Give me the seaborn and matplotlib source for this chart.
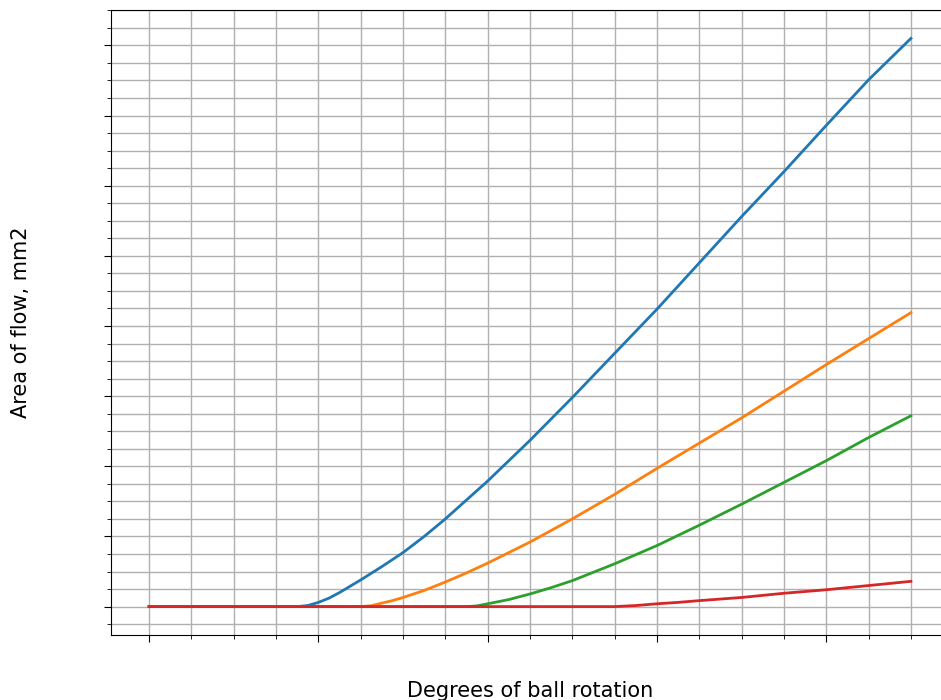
import matplotlib
matplotlib.use("Agg")
import matplotlib.pyplot as plt
from matplotlib.ticker import MultipleLocator, AutoMinorLocator
import pandas as pd
import seaborn as sns

# Flow area (mm2) against ball rotation (degrees) for four valve sizes
deg_a = [0, 5, 10, 15, 17.5, 18.75, 20, 21.25, 22.5, 23.75, 25, 27.5, 30, 32.5, 35, 40, 45, 50,
         55, 60, 65, 70, 75, 80, 85, 90]
area_a = [0, 0, 0, 0, 0, 1.5, 6, 12, 20, 29, 38, 57, 77, 100, 125, 179, 237, 298,
          361, 424, 490, 556, 620, 686, 751, 810]

deg_b = [0, 5, 10, 15, 20, 25, 26.25, 27.5, 28.75, 30, 32.5, 35, 37.5, 40, 45, 50, 55,
         60, 65, 70, 75, 80, 85, 90]
area_b = [0, 0, 0, 0, 0, 0, 1.2, 5, 8.5, 13, 23, 35, 48, 62, 92, 125, 160,
          197, 233, 269, 307, 345, 382, 419]

deg_c = [0, 5, 10, 15, 20, 25, 30, 35, 37.5, 38.75, 40, 42.5, 45, 47.5, 50, 55, 60,
         65, 70, 75, 80, 85, 90]
area_c = [0, 0, 0, 0, 0, 0, 0, 0, 0, 1, 4, 10, 18, 27, 37, 61, 87,
          116, 146, 177, 208, 241, 272]

deg_d = [0, 5, 10, 15, 20, 25, 30, 35, 40, 45, 50, 55, 57.5, 60, 62.5, 65, 70, 75, 80, 85, 90]
area_d = [0, 0, 0, 0, 0, 0, 0, 0, 0, 0, 0, 0, 1.5, 4, 6, 8.5, 13, 19, 24, 30, 36]

series_names = ["A", "B", "C", "D"]
frames = []
for name, d, a in zip(series_names, [deg_a, deg_b, deg_c, deg_d], [area_a, area_b, area_c, area_d]):
    frames.append(pd.DataFrame({"deg": d, "area": a, "valve": name}))
df = pd.concat(frames, ignore_index=True)

fig = plt.figure(figsize=(9.41, 7.0), dpi=100)
ax = fig.add_axes([111 / 941, 65 / 700, 838 / 941, 625 / 700])

sns.lineplot(data=df, x="deg", y="area", hue="valve",
             palette=["#1f77b4", "#ff7f0e", "#2ca02c", "#d62728"],
             linewidth=2, legend=False, ax=ax, zorder=3)

ax.xaxis.set_major_locator(MultipleLocator(20))
ax.xaxis.set_minor_locator(MultipleLocator(5))
ax.yaxis.set_major_locator(MultipleLocator(100))
ax.yaxis.set_minor_locator(AutoMinorLocator(4))
ax.margins(x=0.05, y=0.05)

ax.grid(True, which="both", color="#b0b0b0", linewidth=1.0)
ax.set_axisbelow(True)
ax.tick_params(which="major", length=5, labelbottom=False, labelleft=False)
ax.tick_params(which="minor", length=3)

ax.set_xlabel("Degrees of ball rotation", fontsize=15, labelpad=27)
ax.set_ylabel("Area of flow, mm2", fontsize=15, labelpad=51)

fig.savefig("out.png", dpi=100)
